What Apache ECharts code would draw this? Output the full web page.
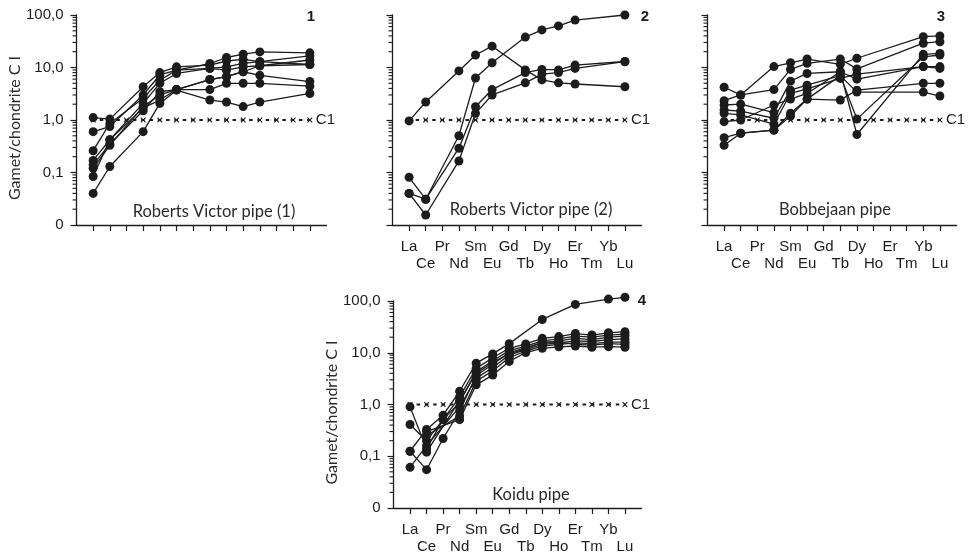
<!DOCTYPE html>
<html><head><meta charset="utf-8">
<script src="https://cdn.jsdelivr.net/npm/echarts@6/dist/echarts.min.js"></script>
<style>html,body{margin:0;padding:0;background:#fff}#c{width:976px;height:555px}</style>
</head><body><div id="c"></div>
<script>
// Rare earth elements (x categories)
const elements = ['La','Ce','Pr','Nd','Sm','Eu','Gd','Tb','Dy','Ho','Er','Tm','Yb','Lu'];

// y tick values and labels
const yTickValues = [0.01, 0.1, 1, 10, 100];
const yTickLabels = ['0', '0,1', '1,0', '10,0', '100,0'];
const minorTickValues = [0.02,0.03,0.04,0.05,0.06,0.07,0.08,0.09,
  0.2,0.3,0.4,0.5,0.6,0.7,0.8,0.9, 2,3,4,5,6,7,8,9, 20,30,40,50,60,70,80,90];

// chondrite C1 reference line
const chondriteRef = [1,1,1,1,1,1,1,1,1,1,1,1,1,1];

// Panel 1: Roberts Victor pipe (1)
//            La    Ce    Pr    Nd   Sm   Eu    Gd    Tb   Dy   Ho   Er   Tm    Yb    Lu
const robertsVictor1 = [
  [0.040, 0.13, null, 0.60, 2.07, 3.7, null, 2.4, 2.2, 1.8, 2.2, null, null, 3.2],
  [1.11, 1.04, null, 4.3, 8.0, 10.3, null, 11.1, 13.3, 14.3, 12.9, null, null, 11.4],
  [0.60, 0.75, null, 3.0, 7.2, 8.9, null, 11.9, 15.5, 17.9, 19.8, null, null, 19.0],
  [0.26, 0.86, null, 2.6, 5.7, 8.9, null, 9.6, 10.3, 12.0, 12.9, null, null, 16.7],
  [0.17, 0.42, null, 2.07, 5.0, 7.7, null, 9.6, 8.9, 10.3, 10.8, null, null, 13.9],
  [0.14, 0.35, null, 1.5, 3.45, 3.8, null, 5.9, 6.7, 8.3, 7.1, null, null, 5.4],
  [0.12, 0.33, null, 1.8, 3.0, 3.8, null, 3.8, 5.0, 5.0, 5.0, null, null, 4.4],
  [0.084, 0.42, null, 1.7, 2.4, 3.8, null, 5.9, 6.7, 8.3, 10.8, null, null, 11.4]
];

// Panel 2: Roberts Victor pipe (2)
const robertsVictor2 = [
  [0.96, 2.2, null, 8.6, 17.3, 25.5, null, 9.0, 5.8, 5.1, 4.85, null, null, 4.3],
  [0.081, 0.031, null, 0.50, 6.3, 12.3, null, 38.0, 52.0, 62.0, 80.0, null, null, 100.0],
  [0.040, 0.031, null, 0.29, 1.79, 3.8, null, 8.0, 9.2, 9.0, 11.1, null, null, 13.0],
  [0.040, 0.0155, null, 0.166, 1.34, 3.0, null, 5.1, 7.5, 8.0, 9.6, null, null, 12.9]
];

// Panel 3: Bobbejaan pipe
const bobbejaan = [
  [4.2, 3.0, null, 10.4, 12.3, 14.5, null, 11.5, 15.0, null, null, null, 38.7, 40.0],
  [2.33, 3.0, null, 3.8, 9.2, 12.0, null, 14.5, 9.4, null, null, null, 29.0, 31.0],
  [1.93, 2.0, null, 1.38, 5.5, 7.7, null, 8.3, 0.53, null, null, null, 17.8, 18.5],
  [1.55, 1.48, null, 1.08, 3.7, 4.6, null, 7.0, 1.04, null, null, null, 16.0, 17.3],
  [1.34, 1.25, null, 0.83, 3.2, 3.9, null, 6.2, 7.5, null, null, null, 10.4, 10.4],
  [0.93, 1.0, null, 1.93, 2.5, 3.2, null, 8.3, 6.0, null, null, null, 10.4, 9.6],
  [0.46, 0.56, null, 0.64, 1.34, 2.5, null, 2.4, 3.7, null, null, null, 5.0, 5.0],
  [0.33, 0.56, null, 0.64, 1.19, 2.5, null, 7.0, 3.4, null, null, null, 3.4, 2.86]
];

// Panel 4: Koidu pipe
const koidu = [
  [0.125, 0.33, 0.62, 1.8, 6.3, 9.5, 15.0, null, 44.0, null, 86.0, null, 109.0, 118.0],
  [0.90, 0.14, 0.51, 1.4, 5.0, 8.0, 12.2, 14.8, 19.0, 20.5, 23.5, 22.0, 24.3, 25.5],
  [0.41, 0.20, 0.51, 1.1, 4.3, 7.0, 11.0, 13.5, 17.0, 18.5, 21.0, 20.0, 22.0, 23.0],
  [0.125, 0.055, 0.22, 0.75, 3.6, 6.0, 10.0, 12.5, 15.5, 17.0, 19.0, 18.0, 20.0, 21.0],
  [0.061, 0.16, null, 0.9, 3.2, 5.2, 9.0, 11.5, 14.5, 15.5, 17.0, 16.5, 18.0, 18.5],
  [null, 0.25, null, 0.6, 2.8, 4.5, 8.0, 10.8, 13.5, 14.5, 15.5, 15.0, 16.0, 16.0],
  [null, 0.30, null, 0.51, 2.4, 3.7, 6.8, 10.1, 12.2, 13.0, 13.5, 12.8, 13.1, 12.8],
  [null, 0.12, null, 1.2, 4.0, 6.5, 9.5, 12.0, 16.0, 16.0, 14.5, 14.0, 15.0, 14.5]
];

const panels = [robertsVictor1, robertsVictor2, bobbejaan, koidu];
const panelTitles = ['Roberts Victor pipe (1)', 'Roberts Victor pipe (2)', 'Bobbejaan pipe', 'Koidu pipe'];
const panelNumbers = ['1', '2', '3', '4'];
const yName = 'Gamet/chondrite C I';

// ---- layout / style ----
const INK = '#1c1c1c';
const SANS = '"Liberation Sans", Arial, sans-serif';
const grids = [
  {left: 76.5, top: 15, width: 250, height: 210},
  {left: 392.5, top: 15, width: 249, height: 210},
  {left: 707.5, top: 15, width: 249, height: 210},
  {left: 393.5, top: 301, width: 248, height: 207}
];
const showY = [true, false, false, true];
const showX = [false, true, true, true];
const titlePos = [[214, 212], [531, 210], [835, 210], [531, 495]];
const numPos = [[311, 17], [645, 17], [941, 17], [642, 301]];

const cats = [''].concat(elements, ['']);
function yFmt(v) {
  let best = 0, bd = Infinity;
  yTickValues.forEach((t, i) => {
    const d = Math.abs(Math.log10(v) - Math.log10(t));
    if (d < bd) { bd = d; best = i; }
  });
  return yTickLabels[best];
}
const xSymbol = 'path://M0,1.4L1.4,0L5,3.6L8.6,0L10,1.4L6.4,5L10,8.6L8.6,10L5,6.4L1.4,10L0,8.6L3.6,5Z';

const xAxes = [], yAxes = [], series = [], graphics = [];
grids.forEach((g, i) => {
  xAxes.push({
    type: 'category', gridIndex: i, data: cats, boundaryGap: false,
    axisLine: {show: true, lineStyle: {color: INK, width: 1.3}},
    axisTick: {show: true, length: 6, interval: (idx) => idx >= 1 && idx <= 14,
      lineStyle: {color: INK, width: 1.2}},
    axisLabel: {show: showX[i], interval: 0, margin: 13, fontFamily: SANS,
      fontSize: 15, lineHeight: 17, color: INK,
      formatter: (v, idx) => (idx % 2 === 1 ? v : '\n' + v)},
    splitLine: {show: false}
  });
  yAxes.push({
    type: 'log', logBase: 10, gridIndex: i, min: 0.01, max: 100,
    axisLine: {show: true, lineStyle: {color: INK, width: 1.3}},
    axisTick: {show: true, length: 6, lineStyle: {color: INK, width: 1.2}},
    minorTick: {show: false},
    axisLabel: {show: showY[i], margin: 13, fontFamily: SANS, fontSize: 15,
      color: INK, formatter: yFmt, showMinLabel: true, showMaxLabel: true},
    splitLine: {show: false}
  });
  // minor log ticks: symbols of a transparent line series, one category step left of La
  series.push({
    type: 'line', xAxisIndex: i, yAxisIndex: i, silent: true, clip: false,
    data: minorTickValues.map(v => ['La', v]),
    lineStyle: {opacity: 0, width: 0},
    symbol: 'rect', symbolSize: [4, 1.1], showSymbol: true, showAllSymbol: true,
    symbolOffset: [-(g.width / 15) - 2, 0],
    itemStyle: {color: INK, opacity: 1},
    z: 6, animation: false
  });
  // C1 reference
  series.push({
    type: 'line', xAxisIndex: i, yAxisIndex: i, silent: true, clip: false,
    data: chondriteRef.map((v, k) => [k + 1, v]),
    symbol: xSymbol, symbolSize: 5.5, showSymbol: true,
    itemStyle: {color: INK},
    lineStyle: {color: INK, width: 1.8, type: [3.5, 4.8], dashOffset: 1.75},
    endLabel: {show: true, formatter: 'C1', distance: 6, fontFamily: SANS,
      fontSize: 15, color: INK},
    z: 2, animation: false
  });
  panels[i].forEach(row => {
    series.push({
      type: 'line', xAxisIndex: i, yAxisIndex: i, clip: false, connectNulls: true,
      data: row.map((v, k) => [k + 1, v]),
      symbol: 'circle', symbolSize: 9, showSymbol: true,
      itemStyle: {color: INK},
      lineStyle: {color: INK, width: 1.3},
      z: 3, animation: false
    });
  });
  graphics.push({
    type: 'text', x: titlePos[i][0], y: titlePos[i][1],
    style: {text: panelTitles[i], fill: '#2a2a2a', font: '16.5px Lato', align: 'center', verticalAlign: 'middle'}
  });
  graphics.push({
    type: 'text', x: numPos[i][0], y: numPos[i][1],
    style: {text: panelNumbers[i], fill: INK, font: 'bold 15px "Liberation Sans"', align: 'center', verticalAlign: 'middle'}
  });
  if (showY[i]) {
    graphics.push({
      type: 'text', x: g.left - 62, y: g.top + g.height / 2 + 8, rotation: Math.PI / 2,
      style: {text: yName, fill: '#2a2a2a', font: '16px Lato', align: 'center', verticalAlign: 'middle'}
    });
  }
});

const chart = echarts.init(document.getElementById('c'), null, {renderer: 'canvas'});
chart.setOption({
  animation: false,
  backgroundColor: '#ffffff',
  grid: grids,
  xAxis: xAxes,
  yAxis: yAxes,
  series: series,
  graphic: graphics
});
</script></body></html>
